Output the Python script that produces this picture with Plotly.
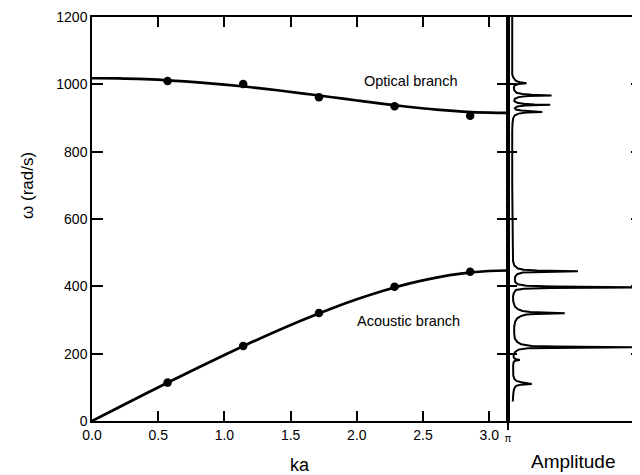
import math
import plotly.graph_objects as go

# ---- data ----
ka_curve = [0.0, 0.2, 0.4, 0.6, 0.8, 1.0, 1.2, 1.4, 1.6, 1.8, 2.0, 2.2, 2.4, 2.6, 2.8, 3.0, 3.1416]
optical_curve = [1018, 1017.6, 1015.2, 1011.3, 1006.0, 999.3, 991.4, 982.4, 972.6, 962.4,
                 952.0, 942.0, 932.7, 924.9, 919.1, 915.7, 915.0]
acoustic_curve = [0, 40.1, 80.0, 119.5, 158.3, 196.2, 233.0, 268.2, 301.7, 332.9,
                  361.5, 387.0, 408.7, 426.1, 438.5, 445.5, 447.0]

ka_measured = [0.571, 1.142, 1.714, 2.285, 2.856]
optical_measured = [1010, 1001, 962, 935, 907]
acoustic_measured = [114, 223, 321, 399, 443]

spec_omega = [1200, 1030, 1020, 1010, 1006, 1003, 1001, 997, 990, 982,
              975, 971, 969, 967, 965, 962, 957, 950, 945, 942,
              940, 939, 937, 934, 929, 925, 922, 920, 918, 916,
              913, 908, 900, 885, 860, 700, 500, 475, 462, 453,
              449, 447, 445, 443, 441, 436, 428, 420, 412, 406,
              402, 399.5, 397, 395, 393, 389, 380, 370, 355, 340,
              332, 327, 324, 322, 320, 318, 316, 312, 305, 295,
              280, 260, 245, 235, 228, 223, 221, 219, 217.5, 216,
              212, 205, 196, 188, 184, 181, 179, 174, 165, 150,
              135, 125, 119, 115, 112, 110, 108, 105, 100, 92,
              80, 70, 58]
spec_amp = [0.032, 0.032, 0.04, 0.06, 0.09, 0.14, 0.08, 0.05, 0.044, 0.048,
            0.065, 0.11, 0.18, 0.33, 0.15, 0.08, 0.052, 0.048, 0.07, 0.12,
            0.2, 0.32, 0.13, 0.07, 0.052, 0.06, 0.1, 0.16, 0.26, 0.14,
            0.08, 0.052, 0.04, 0.034, 0.032, 0.032, 0.034, 0.038, 0.048, 0.075,
            0.12, 0.22, 0.53, 0.2, 0.11, 0.07, 0.054, 0.052, 0.056, 0.075,
            0.14, 0.35, 0.985, 0.32, 0.12, 0.06, 0.044, 0.038, 0.04, 0.052,
            0.075, 0.11, 0.17, 0.27, 0.43, 0.21, 0.14, 0.1, 0.07, 0.054,
            0.047, 0.047, 0.052, 0.07, 0.1, 0.18, 0.36, 0.975, 0.33, 0.15,
            0.08, 0.054, 0.042, 0.044, 0.056, 0.09, 0.052, 0.042, 0.039, 0.038,
            0.04, 0.048, 0.065, 0.1, 0.14, 0.18, 0.1, 0.065, 0.052, 0.044,
            0.04, 0.037, 0.036]

x_ticks = [0.0, 0.5, 1.0, 1.5, 2.0, 2.5, 3.0]
x_ticktext = ["0.0", "0.5", "1.0", "1.5", "2.0", "2.5", "3.0"]
y_ticks = [0, 200, 400, 600, 800, 1000, 1200]

FONT = "Arial, Liberation Sans, sans-serif"
split = (500 - 84) / 548

fig = go.Figure()
fig.add_trace(go.Scatter(x=ka_curve, y=optical_curve, mode="lines", line=dict(color="black", width=2.7),
                         line_shape="spline", showlegend=False, xaxis="x", yaxis="y"))
fig.add_trace(go.Scatter(x=ka_curve, y=acoustic_curve, mode="lines", line=dict(color="black", width=2.7),
                         line_shape="spline", showlegend=False, xaxis="x", yaxis="y"))
fig.add_trace(go.Scatter(x=ka_measured, y=optical_measured, mode="markers",
                         marker=dict(color="black", size=8.5), showlegend=False, xaxis="x", yaxis="y"))
fig.add_trace(go.Scatter(x=ka_measured, y=acoustic_measured, mode="markers",
                         marker=dict(color="black", size=8.5), showlegend=False, xaxis="x", yaxis="y"))
fig.add_trace(go.Scatter(x=spec_amp, y=spec_omega, mode="lines", line=dict(color="black", width=2),
                         showlegend=False, xaxis="x2", yaxis="y2"))

axis_common = dict(showline=True, linecolor="black", linewidth=1.5, showgrid=False, zeroline=False,
                   tickcolor="black", tickwidth=1.5, automargin=False)

fig.update_layout(
    width=632, height=467,
    margin=dict(l=84, r=0, t=9, b=54, autoexpand=False),
    paper_bgcolor="white", plot_bgcolor="white",
    font=dict(family=FONT, color="black", size=14),
    xaxis=dict(domain=[0, split], range=[0, math.pi], tickvals=x_ticks, ticktext=x_ticktext,
               ticks="inside", ticklen=10, mirror="ticks", anchor="y", **axis_common),
    yaxis=dict(range=[0, 1200], tickvals=y_ticks, ticks="inside", ticklen=11, mirror="ticks",
               anchor="x", **axis_common),
    xaxis2=dict(domain=[split, 1], range=[0, 1], tickvals=[0], ticktext=["π"], ticks="outside",
                ticklen=7, tickfont=dict(size=10), mirror=True, anchor="y2", **axis_common),
    yaxis2=dict(range=[0, 1200], matches="y", tickvals=y_ticks, ticks="inside", ticklen=9,
                mirror="ticks", showticklabels=False, anchor="x2", **axis_common),
    annotations=[
        dict(text="Optical branch", x=2.41, y=1011, xref="x", yref="y", showarrow=False,
             xanchor="center", yanchor="middle", font=dict(size=14.5)),
        dict(text="Acoustic branch", x=2.39, y=297, xref="x", yref="y", showarrow=False,
             xanchor="center", yanchor="middle", font=dict(size=14.5)),
        dict(text="ka", x=(300 - 92) / 548, y=(421 - 465) / 404, xref="paper", yref="paper",
             xanchor="center", yanchor="middle", showarrow=False, font=dict(size=18)),
        dict(text="Amplitude", x=(573 - 92) / 548, y=(421 - 461) / 404, xref="paper", yref="paper",
             xanchor="center", yanchor="middle", showarrow=False, font=dict(size=19)),
        dict(text="ω (rad/s)", x=(27 - 92) / 548, y=(421 - 186) / 404, xref="paper", yref="paper",
             xanchor="center", yanchor="middle", showarrow=False, textangle=-90, font=dict(size=17)),
    ],
)

fig.write_html("out.html")
